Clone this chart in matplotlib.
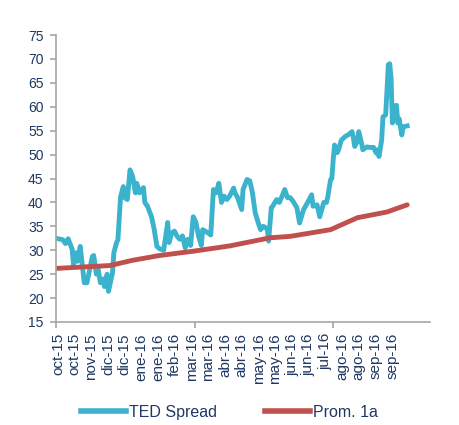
import matplotlib
matplotlib.use('Agg')
import matplotlib.pyplot as plt
from matplotlib.lines import Line2D

plt.rcParams['font.family'] = ['Liberation Sans', 'DejaVu Sans']

# Datos (índice = día hábil desde oct-15)
ted_dias = [0, 5, 7, 9, 12, 13, 15, 16, 18, 21, 23, 25, 27, 28, 30, 31, 33, 35, 36, 38,
            39, 42, 43, 45, 46, 48, 50, 51, 53, 55, 57, 59, 60, 62, 65, 66, 68, 71, 73, 75,
            77, 80, 83, 84, 86, 88, 90, 92, 94, 96, 98, 100, 102, 104, 106, 108, 109, 112, 115, 117,
            119, 121, 123, 125, 127, 129, 132, 133, 135, 138, 139, 142, 144, 146, 148, 150, 152, 154, 157, 158,
            160, 161, 164, 166, 168, 170, 172, 174, 176, 179, 181, 184, 187, 190, 191, 194, 196, 199, 201, 202,
            204, 205, 206, 207, 209, 210, 212, 215, 217, 220, 221, 222, 224, 225, 227, 228, 231, 233, 236, 238,
            239, 240, 242, 243, 245, 247, 248, 249, 250, 251, 253, 254, 255, 257, 258, 261]
ted_spread = [32.5, 32.2, 31.4, 32.4, 30.2, 27.0, 29.5, 27.7, 30.8, 23.2, 23.2, 26.0, 28.7, 28.9, 25.0, 26.6, 23.2, 24.0, 22.4, 25.0,
              21.4, 25.3, 29.5, 31.6, 32.2, 41.2, 43.3, 41.0, 40.6, 46.8, 45.4, 42.0, 44.0, 42.0, 43.1, 40.0, 39.2, 37.0, 34.3, 30.8,
              30.3, 30.0, 35.8, 31.6, 33.6, 34.0, 32.9, 32.3, 33.0, 30.5, 32.3, 31.0, 37.0, 35.8, 32.9, 31.0, 34.3, 33.8, 33.2, 42.7,
              42.0, 44.0, 40.0, 41.3, 40.6, 41.3, 43.0, 42.0, 41.0, 38.5, 42.7, 44.8, 44.5, 42.0, 37.9, 36.0, 34.3, 35.0, 34.5, 31.9,
              38.9, 39.2, 40.6, 40.0, 41.3, 42.7, 41.0, 41.0, 40.3, 38.9, 35.7, 38.5, 40.0, 41.6, 39.2, 39.5, 37.0, 40.0, 40.0, 41.2,
              44.7, 45.0, 48.9, 52.0, 50.4, 51.0, 53.0, 53.8, 54.1, 54.8, 53.5, 51.7, 52.8, 54.8, 52.5, 51.0, 51.6, 51.5, 51.5, 50.3,
              51.0, 49.6, 53.0, 57.9, 58.3, 68.8, 69.0, 66.0, 56.6, 60.0, 60.3, 56.6, 57.5, 54.1, 55.8, 56.0]

prom_dias = [0, 40, 57, 77, 102, 129, 159, 174, 204, 224, 246, 261]
prom_1a = [26.2, 26.8, 27.9, 28.9, 29.8, 30.9, 32.6, 32.9, 34.3, 36.8, 38.0, 39.5]

etiquetas = ['oct-15', 'oct-15', 'nov-15', 'dic-15', 'dic-15', 'ene-16', 'ene-16', 'feb-16',
             'mar-16', 'mar-16', 'abr-16', 'abr-16', 'may-16', 'may-16', 'jun-16', 'jun-16',
             'jul-16', 'ago-16', 'ago-16', 'sep-16', 'sep-16']
inicio, paso = 1.5, 12.42

azul = '#3BB3CC'
rojo = '#C0504D'
texto = '#1F3864'
gris = '#A6A6A6'

fig = plt.figure(figsize=(4.59, 4.25), dpi=100)
ax = fig.add_axes([0.122, 0.2424, 0.815, 0.6752])

ax.plot(ted_dias, ted_spread, color=azul, lw=3.5, solid_joinstyle='round')
ax.plot(prom_dias, prom_1a, color=rojo, lw=3.5, solid_capstyle='round')

ax.set_ylim(15, 75)
ax.set_xlim(0, 278)
ax.set_yticks(range(15, 80, 5))

ax.set_xticks([inicio + i * paso for i in range(len(etiquetas))])
ax.set_xticklabels(etiquetas, rotation=90, fontsize=11, color=texto)
ax.tick_params(axis='x', length=0, pad=8)
ax.set_xticks([0, 103, 206], minor=True)
ax.tick_params(axis='x', which='minor', length=4, color=gris, width=1.2)
ax.tick_params(axis='y', length=4, color=gris, width=1.2, labelsize=10, labelcolor=texto, pad=5)

for s in ['top', 'right']:
    ax.spines[s].set_visible(False)
for s in ['left', 'bottom']:
    ax.spines[s].set_color(gris)
    ax.spines[s].set_linewidth(1.2)

handles = [Line2D([], [], color=azul, lw=4), Line2D([], [], color=rojo, lw=4)]
fig.legend(handles, ['TED Spread', 'Prom. 1a'], loc='lower center', bbox_to_anchor=(0.5, -0.022),
           ncol=2, frameon=False, fontsize=11.5, handlelength=2.8, handletextpad=0.2,
           columnspacing=3.0, labelcolor=texto)

fig.savefig('out.png', dpi=100)
